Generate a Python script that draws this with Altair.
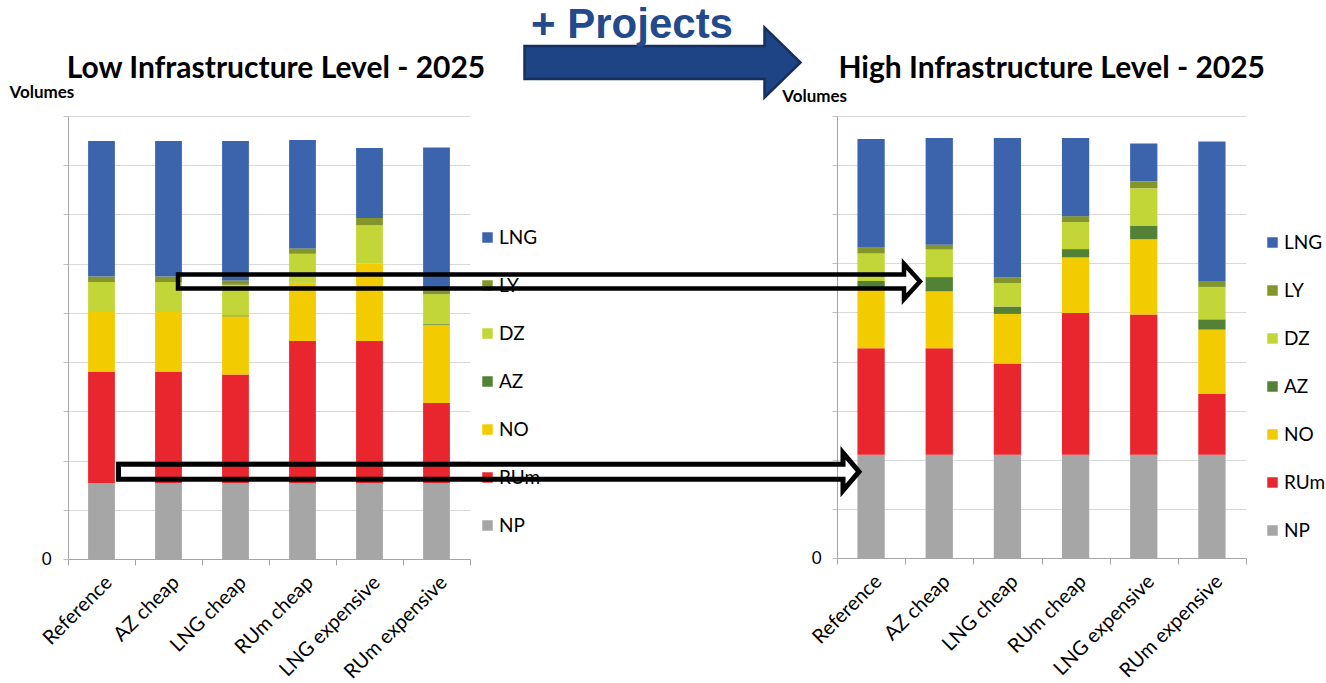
import altair as alt
import pandas as pd

# ---------------- data ----------------
CATEGORIES = ["Reference", "AZ cheap", "LNG cheap", "RUm cheap", "LNG expensive", "RUm expensive"]
SERIES = ["NP", "RUm", "NO", "AZ", "DZ", "LY", "LNG"]          # stack order, bottom -> top
LEGEND_ORDER = ["LNG", "LY", "DZ", "AZ", "NO", "RUm", "NP"]     # legend order, top -> bottom
COLORS = ["#3C64AC", "#84962A", "#C3D637", "#538135", "#F2CB00", "#E9262D", "#A6A6A6"]

# Low infrastructure level - 2025 (volumes in gridline units)
LOW_NP = [1.54, 1.54, 1.54, 1.54, 1.54, 1.54]
LOW_RUM = [2.26, 2.26, 2.21, 2.89, 2.89, 1.63]
LOW_NO = [1.22, 1.22, 1.18, 1.18, 1.58, 1.58]
LOW_AZ = [0.00, 0.00, 0.02, 0.00, 0.00, 0.02]
LOW_DZ = [0.61, 0.61, 0.62, 0.59, 0.77, 0.61]
LOW_LY = [0.11, 0.11, 0.09, 0.11, 0.15, 0.10]
LOW_LNG = [2.75, 2.75, 2.83, 2.20, 1.42, 2.88]

# High infrastructure level - 2025
HIGH_NP = [2.10, 2.10, 2.10, 2.10, 2.10, 2.10]
HIGH_RUM = [2.17, 2.17, 1.86, 2.89, 2.86, 1.24]
HIGH_NO = [1.24, 1.16, 1.01, 1.13, 1.53, 1.31]
HIGH_AZ = [0.13, 0.29, 0.15, 0.17, 0.28, 0.21]
HIGH_DZ = [0.56, 0.56, 0.48, 0.55, 0.76, 0.66]
HIGH_LY = [0.13, 0.10, 0.12, 0.12, 0.14, 0.12]
HIGH_LNG = [2.20, 2.17, 2.83, 1.59, 0.77, 2.84]

TITLE_LOW = "Low Infrastructure Level - 2025"
TITLE_HIGH = "High Infrastructure Level - 2025"
PROJECTS = "+ Projects"
Y_TITLE = "Volumes"


def make_df(cols):
    rows = []
    for rank, (s, vals) in enumerate(zip(SERIES, cols)):
        for c, v in zip(CATEGORIES, vals):
            rows.append({"scenario": c, "series": s, "value": v, "rank": rank})
    return pd.DataFrame(rows)


low_df = make_df([LOW_NP, LOW_RUM, LOW_NO, LOW_AZ, LOW_DZ, LOW_LY, LOW_LNG])
high_df = make_df([HIGH_NP, HIGH_RUM, HIGH_NO, HIGH_AZ, HIGH_DZ, HIGH_LY, HIGH_LNG])

FONT = "Lato"


def bars(df, legend_x, legend_y, vol_x, vol_y, lab_pad):
    return alt.Chart(df).mark_bar(width={"band": 0.4}).encode(
        x=alt.X("scenario:N", sort=CATEGORIES,
                scale=alt.Scale(paddingInner=0, paddingOuter=0),
                axis=alt.Axis(title=None, labelAngle=-45, tickBand="extent", tickSize=6,
                              tickColor="#A6A6A6", domainColor="#A6A6A6", labelFont=FONT,
                              labelFontSize=20, labelColor="#000000", labelPadding=7,
                              grid=False)),
        y=alt.Y("value:Q", stack="zero",
                scale=alt.Scale(domain=[0, 9], nice=False),
                axis=alt.Axis(values=list(range(10)),
                              labelExpr="datum.value == 0 ? '0' : ''",
                              labelFont=FONT, labelFontSize=17, labelColor="#000000",
                              labelPadding=lab_pad, tickSize=5, tickColor="#BFBFBF",
                              domainColor="#A6A6A6", gridColor="#D9D9D9",
                              title=Y_TITLE, titleAngle=0, titleX=vol_x, titleY=vol_y,
                              titleAlign="left", titleBaseline="alphabetic",
                              titleFont=FONT, titleFontSize=17, titleFontWeight="bold",
                              titleColor="#000000")),
        color=alt.Color("series:N",
                        scale=alt.Scale(domain=LEGEND_ORDER, range=COLORS),
                        legend=alt.Legend(title=None, orient="none", legendX=legend_x,
                                          legendY=legend_y, symbolType="square",
                                          symbolSize=110, symbolStrokeWidth=0,
                                          labelFont=FONT, labelFontSize=19,
                                          labelColor="#000000", rowPadding=28,
                                          labelOffset=2, padding=0)),
        order=alt.Order("rank:Q", sort="ascending"),
    )


def title_text(text, x, y):
    return alt.Chart(pd.DataFrame({"t": [text]})).mark_text(
        font=FONT, fontSize=30, fontWeight="bold", color="#000000",
        align="center", baseline="alphabetic"
    ).encode(text="t:N", x=alt.value(x), y=alt.value(y))


def arrow_path(length, head_len, half_shaft, half_head):
    b = length - head_len
    return (f"M0,{-half_shaft} L{b},{-half_shaft} L{b},{-half_head} L{length},0 "
            f"L{b},{half_head} L{b},{half_shaft} L0,{half_shaft} Z")


one = pd.DataFrame({"a": [0]})


def arrow(path, x, y, fill, stroke, sw):
    kw = dict(shape=path, size=4, opacity=1, stroke=stroke, strokeWidth=sw,
              strokeJoin="miter", clip=False)
    if fill is None:
        kw.update(filled=False, fillOpacity=0)
    else:
        kw.update(filled=True, fill=fill, fillOpacity=1)
    return alt.Chart(one).mark_point(**kw).encode(x=alt.value(x), y=alt.value(y))


# left panel: plot origin at (68, 116)
left = alt.layer(
    bars(low_df, 410, 112, -59, -18.5, 12),
    title_text(TITLE_LOW, 208, -38.5),
).properties(width=402, height=443)

# right panel: plot origin at (837, 116); annotations drawn here (on top)
upper_arrow = arrow(arrow_path(742, 16, 7.1, 17.6), -659, 165.5, None, "#000000", 4.5)
lower_arrow = arrow(arrow_path(740.5, 16, 7.5, 18.8), -718.5, 355.7, None, "#000000", 5)
big_arrow = arrow(arrow_path(276, 36, 16.5, 35), -312.5, -53.5, "#1F4485", "#15305F", 2.5)
projects = alt.Chart(pd.DataFrame({"t": [PROJECTS]})).mark_text(
    font="Liberation Sans", fontSize=42, fontWeight="bold", color="#234A8A",
    align="center", baseline="alphabetic"
).encode(text="t:N", x=alt.value(-205), y=alt.value(-77.7))
anchor = alt.Chart(one).mark_rule(opacity=0, strokeWidth=0).encode(
    x=alt.value(-837), x2=alt.value(489), y=alt.value(-116), y2=alt.value(567))

right = alt.layer(
    bars(high_df, 426, 117, -55.3, -14.5, 11),
    title_text(TITLE_HIGH, 214.7, -38.5),
    big_arrow, projects, upper_arrow, lower_arrow, anchor,
).properties(width=409, height=442)

chart = alt.hconcat(left, right, spacing=367, bounds="flush").resolve_scale(
    color="independent").resolve_legend(color="independent").properties(
    padding=0, background="white").configure_view(stroke=None)

chart.save("out.html", embed_options={"renderer": "svg", "actions": False})
